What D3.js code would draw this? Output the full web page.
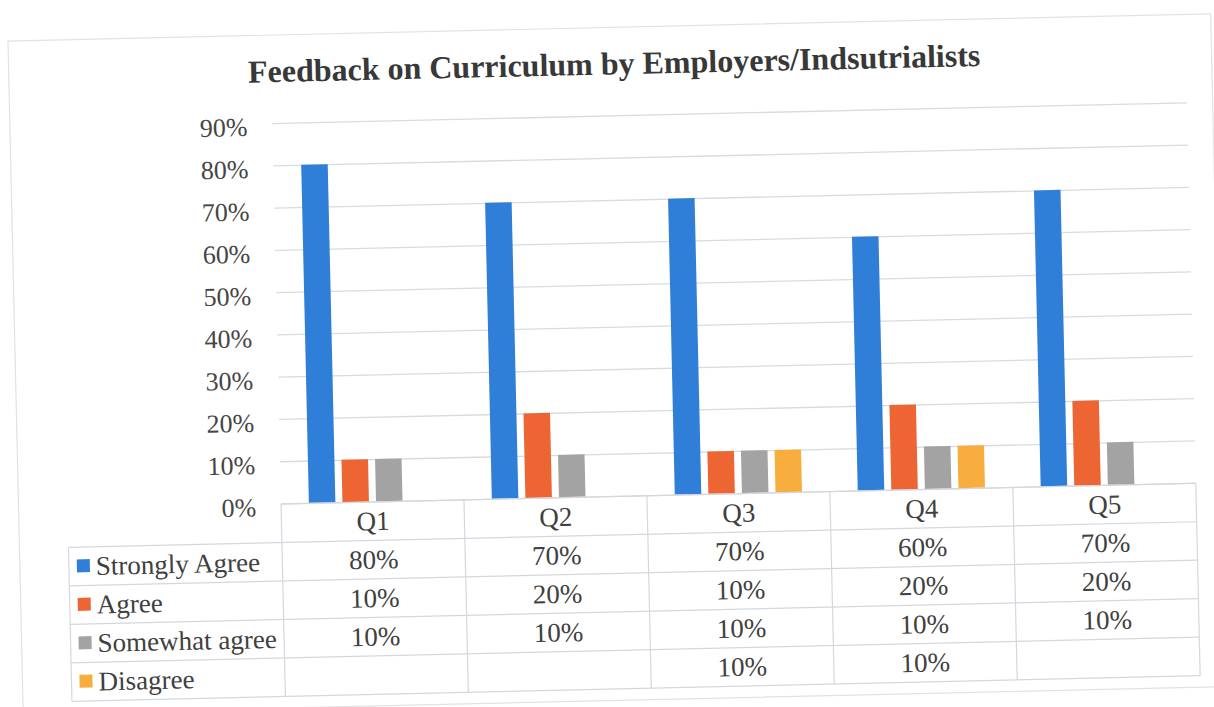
<!DOCTYPE html>
<html>
<head>
<meta charset="utf-8">
<script src="https://cdn.jsdelivr.net/npm/d3@7/dist/d3.min.js"></script>
<style>
  html, body { margin: 0; padding: 0; background: #ffffff; }
  svg { display: block; }
  text { font-family: "Liberation Serif", "Times New Roman", serif; }
</style>
</head>
<body>
<svg id="chart" width="1214" height="707"></svg>
<script>
// Survey questions and answer categories
const categories = ["Q1", "Q2", "Q3", "Q4", "Q5"];
const seriesNames = ["Strongly Agree", "Agree", "Somewhat agree", "Disagree"];

// Share of responses per question (null = no response in that category)
const stronglyAgree = [0.80, 0.70, 0.70, 0.60, 0.70];
const agree         = [0.10, 0.20, 0.10, 0.20, 0.20];
const somewhatAgree = [0.10, 0.10, 0.10, 0.10, 0.10];
const disagree      = [null, null, 0.10, 0.10, null];

const yTickValues = [0, 0.1, 0.2, 0.3, 0.4, 0.5, 0.6, 0.7, 0.8, 0.9];
const seriesColors = ["#2f7fd8", "#ee6534", "#a3a3a3", "#f8ae3e"];

const seriesValues = [stronglyAgree, agree, somewhatAgree, disagree];

const svg = d3.select("#chart");

// The whole sheet sits slightly tilted on the page
const root = svg.append("g").attr("transform", "rotate(-1.3, 281, 503)");

// Chart frame
root.append("rect")
  .attr("x", 18.5).attr("y", 35)
  .attr("width", 1203).attr("height", 673)
  .attr("fill", "none").attr("stroke", "#e2e2e2").attr("stroke-width", 1.2);

// Title
root.append("text")
  .attr("x", 624).attr("y", 82)
  .attr("text-anchor", "middle")
  .attr("font-size", 32).attr("font-weight", "bold")
  .attr("fill", "#383838")
  .text("Feedback on Curriculum by Employers/Indsutrialists");

const plotLeft = 281, plotRight = 1196;
const plotTop = 123, plotBottom = 503.5;

const x0 = d3.scaleBand().domain(categories).range([plotLeft, plotRight]).paddingInner(0).paddingOuter(0);
const x1 = d3.scaleBand().domain(d3.range(seriesNames.length))
  .range([0, x0.bandwidth()]).paddingInner(0.21).paddingOuter(0.83);
const y = d3.scaleLinear().domain([0, 0.9]).range([plotBottom, plotTop]);

// Horizontal gridlines and percentage labels
const yAxis = d3.axisLeft(y).tickValues(yTickValues)
  .tickSize(-(plotRight - plotLeft)).tickPadding(25)
  .tickFormat(d3.format(".0%"));
const gAxis = root.append("g")
  .attr("transform", `translate(${plotLeft},0)`)
  .call(yAxis);
gAxis.select(".domain").remove();
gAxis.selectAll(".tick line").attr("stroke", "#d8dbe2").attr("stroke-width", 1.3);
gAxis.selectAll(".tick text")
  .attr("font-size", 26).attr("fill", "#454545")
  .attr("font-family", "Liberation Serif, Times New Roman, serif")
  .attr("dy", "0.45em");

// Bars
const barData = [];
seriesValues.forEach((vals, si) => {
  vals.forEach((v, ci) => {
    if (v !== null) barData.push({ s: si, c: categories[ci], v });
  });
});
root.append("g").selectAll("rect")
  .data(barData)
  .join("rect")
  .attr("x", d => x0(d.c) + x1(d.s))
  .attr("y", d => y(d.v))
  .attr("width", x1.bandwidth())
  .attr("height", d => y(0) - y(d.v))
  .attr("fill", d => seriesColors[d.s]);

// Data table under the plot
const tableTop = 504;
const rowH = 38.5;
const tableLeft = 67.5;
const tableBottom = tableTop + rowH * (seriesNames.length + 1);
const table = root.append("g");
const lineColor = "#d4d7de";
const cellFont = 27;

// header row top edge (only under the plot)
table.append("line")
  .attr("x1", plotLeft).attr("x2", plotRight)
  .attr("y1", tableTop).attr("y2", tableTop)
  .attr("stroke", lineColor).attr("stroke-width", 1.2);
// row separators
d3.range(1, seriesNames.length + 2).forEach(r => {
  table.append("line")
    .attr("x1", tableLeft).attr("x2", plotRight)
    .attr("y1", tableTop + r * rowH).attr("y2", tableTop + r * rowH)
    .attr("stroke", lineColor).attr("stroke-width", 1.2);
});
// column separators
table.append("line")
  .attr("x1", tableLeft).attr("x2", tableLeft)
  .attr("y1", tableTop + rowH).attr("y2", tableBottom)
  .attr("stroke", lineColor).attr("stroke-width", 1.2);
d3.range(categories.length + 1).forEach(i => {
  const xx = plotLeft + i * x0.bandwidth();
  table.append("line")
    .attr("x1", xx).attr("x2", xx)
    .attr("y1", tableTop).attr("y2", tableBottom)
    .attr("stroke", lineColor).attr("stroke-width", 1.2);
});

// header labels
table.selectAll("text.hdr")
  .data(categories)
  .join("text")
  .attr("class", "hdr")
  .attr("x", d => x0(d) + x0.bandwidth() / 2)
  .attr("y", tableTop + rowH / 2 + 9)
  .attr("text-anchor", "middle")
  .attr("font-size", cellFont).attr("fill", "#404040")
  .text(d => d);

// legend keys, series names and values
seriesNames.forEach((name, si) => {
  const cy = tableTop + rowH * (si + 1) + rowH / 2;
  table.append("rect")
    .attr("x", tableLeft + 8).attr("y", cy - 7)
    .attr("width", 13).attr("height", 13)
    .attr("fill", seriesColors[si]);
  table.append("text")
    .attr("x", tableLeft + 27).attr("y", cy + 9)
    .attr("font-size", cellFont).attr("fill", "#404040")
    .text(name);
  seriesValues[si].forEach((v, ci) => {
    if (v === null) return;
    table.append("text")
      .attr("x", x0(categories[ci]) + x0.bandwidth() / 2)
      .attr("y", cy + 9)
      .attr("text-anchor", "middle")
      .attr("font-size", cellFont).attr("fill", "#404040")
      .text(d3.format(".0%")(v));
  });
});
</script>
</body>
</html>
